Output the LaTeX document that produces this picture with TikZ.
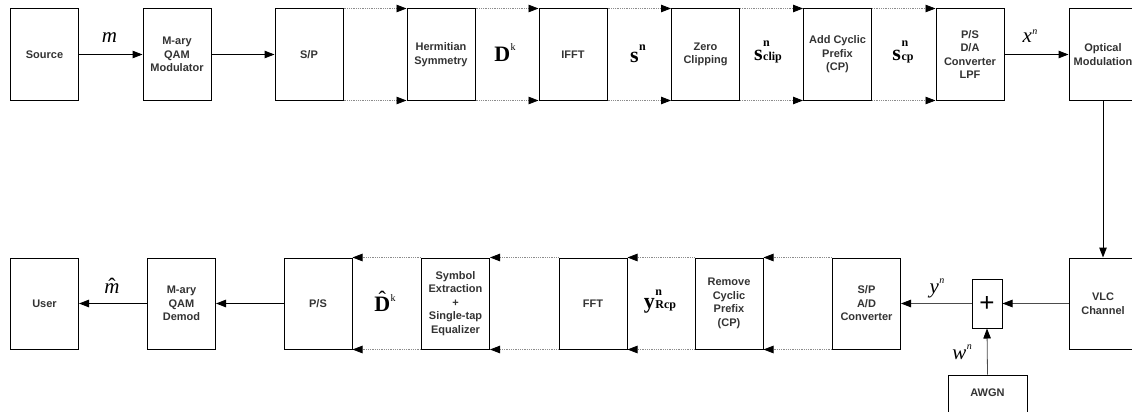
\documentclass[tikz,border=0pt]{standalone}
\usepackage{fontspec}
\setmainfont{Liberation Sans}
\newfontfamily\tnr{Liberation Serif}
\usetikzlibrary{arrows.meta}
% symbol pieces for the signal labels
\newcommand\lblbig[1]{\hbox{\tnr\bfseries\fontsize{22}{22}\selectfont #1}}
\newcommand\lblsmall[1]{\hbox{\tnr\bfseries\fontsize{12}{12}\selectfont #1}}
\newcommand\lblk[1]{\hbox{\tnr\fontsize{10}{10}\selectfont #1}}
\newcommand\lblit[1]{\hbox{\tnr\itshape\fontsize{21}{21}\selectfont #1}}
\newcommand\lblitsmall[1]{\hbox{\tnr\itshape\fontsize{10}{10}\selectfont #1}}
% base symbol with a raised superscript and a subscript stacked on its right
\newcommand\sigsym[5]{#1\kern0.5pt\ooalign{\raisebox{#4}{#2}\hfil\cr\raisebox{#5}{#3}\hfil\cr}}
% circumflex placed over a symbol
\newcommand\hatover[2]{\ooalign{\hfil\raisebox{#2}{\tnr\fontsize{22}{22}\selectfont\char"02C6}\hfil\cr#1\cr}}
\tikzset{
  blk/.style={draw=black, line width=1pt, minimum width=68pt, minimum height=91pt,
    inner sep=1pt, align=center, font=\fontsize{11}{13.5}\selectfont\bfseries, text=black!80},
  flow/.style={line width=1pt, -{Triangle[length=10pt,width=7.5pt]}},
  lightflow/.style={line width=0.8pt, draw=black!70, -{Triangle[length=10pt,width=7.5pt,black]}},
  parline/.style={draw=black!45, line width=0.8pt, densely dotted, -{Triangle[length=10pt,width=7.5pt,black]}},
  sig/.style={inner sep=0pt, anchor=base}
}
\begin{document}
\begin{tikzpicture}[x=1pt,y=-1pt]
\useasboundingbox (0,0) rectangle (1132,412);
\clip (0,0) rectangle (1132,412);

% transmitter chain
\node[blk] (src)  at (44.5,54.5) {Source};
\node[blk] (mod)  at (177,54.5)  {M-ary\\QAM\\Modulator};
\node[blk] (sp)   at (309,54.5)  {S/P};
\node[blk] (herm) at (441,54.5)  {Hermitian\\Symmetry};
\node[blk] (ifft) at (573,54.5)  {IFFT};
\node[blk] (zc)   at (705.5,54.5){Zero\\Clipping};
\node[blk] (acp)  at (837.5,54.5){Add Cyclic\\Prefix\\(CP)};
\node[blk] (ps)   at (970,54.5)  {P/S\\D/A\\Converter\\LPF};
\node[blk] (opt)  at (1103,54.5) {Optical\\Modulation};

% receiver chain
\node[blk] (vlc)  at (1103,303.5){VLC\\Channel};
\node[draw=black, line width=1pt, minimum width=30pt, minimum height=49pt, inner sep=0pt,
      font=\fontsize{26}{26}\selectfont] (plus) at (987,303.5) {+};
\node[blk, minimum width=79pt, minimum height=50pt] (awgn) at (987.5,400) {};
\node[font=\fontsize{11}{13}\selectfont\bfseries, text=black!80] (awgntxt) at (987.5,393) {AWGN};
\node[blk] (spad) at (866.5,303.5){S/P\\A/D\\Converter};
\node[blk] (rcp)  at (729,303.5)  {Remove\\Cyclic\\Prefix\\(CP)};
\node[blk] (fft)  at (593,303.5)  {FFT};
\node[blk] (sym)  at (455.5,303.5){Symbol\\Extraction\\+\\Single-tap\\Equalizer};
\node[blk] (ps2)  at (318,303.5)  {P/S};
\node[blk] (dem)  at (181.5,303.5){M-ary\\QAM\\Demod};
\node[blk] (user) at (44.5,303.5) {User};

% serial connections
\draw[flow] (src) -- (mod);
\draw[flow] (mod) -- (sp);
\draw[flow] (ps) -- (opt);
\draw[flow] (opt.south) -- (vlc.north);
\draw[lightflow] (vlc) -- (plus);
\draw[lightflow] (plus) -- (spad);
\draw[lightflow] (awgn.north) -- (plus.south);
\draw[flow] (ps2) -- (dem);
\draw[flow] (dem) -- (user);

% parallel connections
\foreach \a/\b in {sp/herm, herm/ifft, ifft/zc, zc/acp, acp/ps}{
  \draw[parline] (\a.north east) -- (\b.north west);
  \draw[parline] (\a.south east) -- (\b.south west);
}
\foreach \a/\b in {spad/rcp, rcp/fft, fft/sym, sym/ps2}{
  \draw[parline] (\a.north west) -- (\b.north east);
  \draw[parline] (\a.south west) -- (\b.south east);
}

% signal labels (placed on their baselines)
\node[sig] (lm)    at (109.5,43) {\lblit{m}};
\node[sig] (lDk)   at (505,62)   {\sigsym{\lblbig{D}}{\lblk{k}}{}{11pt}{0pt}};
\node[sig] (lsn)   at (638,63)   {\sigsym{\lblbig{s}}{\lblsmall{n}}{}{12pt}{0pt}};
\node[sig] (lclip) at (768,61)   {\sigsym{\lblbig{s}}{\lblsmall{n}}{\lblsmall{clip}}{14pt}{1pt}};
\node[sig] (lcp)   at (903,61)   {\sigsym{\lblbig{s}}{\lblsmall{n}}{\lblsmall{cp}}{14pt}{1pt}};
\node[sig] (lxn)   at (1030,43)  {\sigsym{\lblit{x}}{\lblitsmall{n}}{}{8pt}{0pt}};
\node[sig] (lmh)   at (112,293)  {\hatover{\lblit{m}}{0pt}};
\node[sig] (lDh)   at (385,311)  {\sigsym{\hatover{\lblbig{D}}{5pt}}{\lblk{k}}{}{10pt}{0pt}};
\node[sig] (lyr)   at (660,308)  {\sigsym{\lblbig{y}}{\lblsmall{n}}{\lblsmall{Rcp}}{13pt}{0pt}};
\node[sig] (lyn)   at (937,293)  {\sigsym{\lblit{y}}{\lblitsmall{n}}{}{10pt}{0pt}};
\node[sig] (lwn)   at (962,359)  {\sigsym{\lblit{w}}{\lblitsmall{n}}{}{10pt}{0pt}};
\end{tikzpicture}
\end{document}
